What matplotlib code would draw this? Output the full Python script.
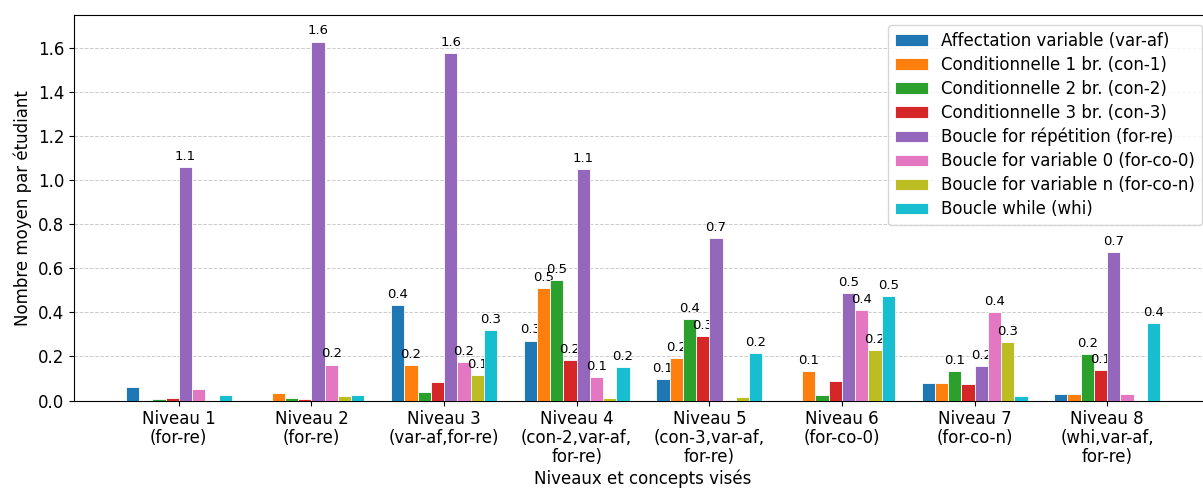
import matplotlib
matplotlib.use("Agg")
import matplotlib.pyplot as plt
import numpy as np

levels = ["Niveau 1\n(for-re)", "Niveau 2\n(for-re)", "Niveau 3\n(var-af,for-re)",
          "Niveau 4\n(con-2,var-af,\nfor-re)", "Niveau 5\n(con-3,var-af,\nfor-re)",
          "Niveau 6\n(for-co-0)", "Niveau 7\n(for-co-n)", "Niveau 8\n(whi,var-af,\nfor-re)"]

series_names = ["Affectation variable (var-af)", "Conditionnelle 1 br. (con-1)",
                "Conditionnelle 2 br. (con-2)", "Conditionnelle 3 br. (con-3)",
                "Boucle for répétition (for-re)", "Boucle for variable 0 (for-co-0)",
                "Boucle for variable n (for-co-n)", "Boucle while (whi)"]

var_af   = [0.060, 0.000, 0.433, 0.272, 0.098, 0.000, 0.078, 0.030]
con_1    = [0.000, 0.033, 0.160, 0.511, 0.194, 0.134, 0.078, 0.030]
con_2    = [0.007, 0.010, 0.037, 0.546, 0.370, 0.025, 0.132, 0.211]
con_3    = [0.011, 0.007, 0.084, 0.184, 0.291, 0.088, 0.076, 0.138]
for_re   = [1.061, 1.629, 1.576, 1.050, 0.738, 0.487, 0.157, 0.674]
for_co_0 = [0.054, 0.163, 0.176, 0.108, 0.000, 0.411, 0.402, 0.031]
for_co_n = [0.000, 0.020, 0.116, 0.013, 0.016, 0.228, 0.266, 0.000]
whi      = [0.025, 0.025, 0.319, 0.152, 0.216, 0.474, 0.020, 0.353]

series = [var_af, con_1, con_2, con_3, for_re, for_co_0, for_co_n, whi]
colors = ["#1f77b4", "#ff7f0e", "#2ca02c", "#d62728", "#9467bd", "#e377c2", "#bcbd22", "#17becf"]

fs = 12
fig = plt.figure(figsize=(12.03, 4.88), dpi=100)
ax = fig.add_axes([74/1203, 1 - 400.5/488, (1212-74)/1203, (400.5-15)/488])

x = np.arange(len(levels))
w = 0.1
for i, (vals, name, c) in enumerate(zip(series, series_names, colors)):
    bars = ax.bar(x + (i - 3.5) * w, vals, w, label=name, color=c,
                  edgecolor="white", linewidth=0.6, zorder=3)
    labels = [f"{v:.1f}" if v >= 0.095 else "" for v in vals]
    ax.bar_label(bars, labels=labels, padding=3, fontsize=9.5)

ax.set_xticks(x)
ax.set_xticklabels(levels, fontsize=fs, linespacing=1.08)
ax.tick_params(axis="y", labelsize=fs)
ax.set_xlim(-0.79, 7.79)
ax.set_ylim(0, 1.75)
ax.set_xlabel("Niveaux et concepts visés", fontsize=fs, labelpad=2)
ax.set_ylabel("Nombre moyen par étudiant", fontsize=fs)
ax.yaxis.grid(True, linestyle="--", color="#cccccc", linewidth=0.7, zorder=0)
ax.set_axisbelow(True)
ax.legend(loc="upper right", fontsize=fs, labelspacing=0.36, borderaxespad=0.6)

fig.savefig("out.png", dpi=100)
